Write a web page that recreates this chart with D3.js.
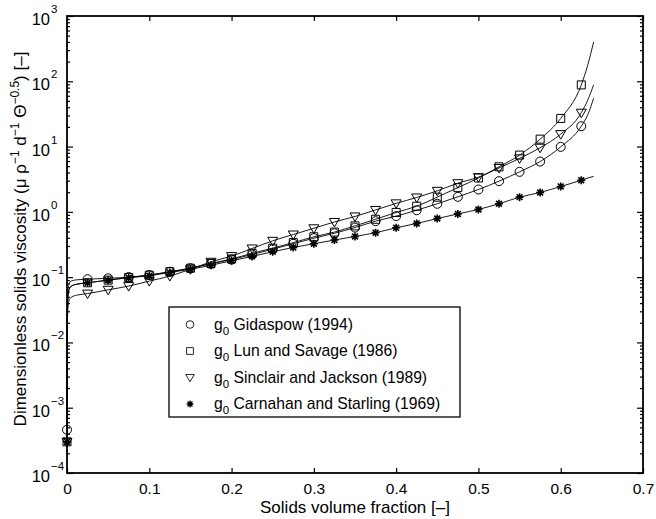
<!DOCTYPE html>
<html><head><meta charset="utf-8">
<script src="https://cdn.jsdelivr.net/npm/d3@7"></script>
<style>
body{margin:0;background:#fff;}
text{font-family:"Liberation Sans",Arial,Helvetica,sans-serif;fill:#000;}
</style></head>
<body><svg id="c" width="656" height="519"></svg>
<script>
// ---- data ----
const phi = [0,0.025,0.05,0.075,0.1,0.125,0.15,0.175,0.2,0.225,0.25,0.275,0.3,0.325,0.35,0.375,0.4,0.425,0.45,0.475,0.5,0.525,0.55,0.575,0.6,0.625];
const gidaspow =        [4.6e-4,0.093,0.096,0.100,0.108,0.121,0.137,0.160,0.186,0.222,0.268,0.325,0.395,0.47,0.575,0.72,0.86,1.06,1.33,1.70,2.2,2.95,4.1,5.9,9.9,20.5];
const lunSavage =       [3e-4,0.082,0.090,0.099,0.107,0.121,0.137,0.162,0.190,0.232,0.278,0.338,0.415,0.49,0.61,0.77,0.98,1.22,1.68,2.35,3.3,4.9,7.4,13,27,88];
const sinclairJackson = [3e-4,0.056,0.064,0.073,0.087,0.104,0.132,0.172,0.21,0.275,0.36,0.45,0.56,0.70,0.85,1.07,1.35,1.66,2.1,2.75,3.4,4.7,6.6,9.6,15.5,33];
const carnahanStarling =[3e-4,0.082,0.090,0.098,0.105,0.118,0.132,0.152,0.178,0.208,0.245,0.285,0.325,0.37,0.42,0.48,0.57,0.665,0.79,0.93,1.09,1.33,1.68,1.98,2.45,3.05];
// extra curve points (near the origin and beyond the last marker)
const phiStart = [0.0005,0.002,0.006,0.012];
const phiEnd = [0.633,0.64];
const gidaspowStart = [0.045,0.078,0.088,0.091],  gidaspowEnd = [31,55];
const lunSavageStart = [0.03,0.062,0.074,0.078],  lunSavageEnd = [180,400];
const sinclairStart = [0.022,0.042,0.05,0.053],   sinclairEnd = [52,88];
const carnahanStart = [0.03,0.062,0.074,0.078],   carnahanEnd = [3.3,3.5];
const seriesNames = ["Gidaspow (1994)","Lun and Savage (1986)","Sinclair and Jackson (1989)","Carnahan and Starling (1969)"];
const xTicks = [0,0.1,0.2,0.3,0.4,0.5,0.6,0.7];
const yExponents = [-4,-3,-2,-1,0,1,2,3];

// ---- layout ----
const L=67,R=643,T=16,B=473;
const svg=d3.select("#c");
const x=d3.scaleLinear().domain([0,0.7]).range([L,R]);
const y=d3.scaleLog().domain([1e-4,1e3]).range([B,T]);

const markerPaths={
  circle:"M4.5,0A4.5,4.5 0 1,1 -4.5,0A4.5,4.5 0 1,1 4.5,0Z",
  square:"M-4,-4H4V4H-4Z",
  tri:"M-5,-3.5H5L0,5Z",
  star:"M-4,0H4M0,-4V4M-2.9,-2.9L2.9,2.9M-2.9,2.9L2.9,-2.9"
};
const series=[
  {name:seriesNames[0],vals:gidaspow,start:gidaspowStart,end:gidaspowEnd,m:"circle"},
  {name:seriesNames[1],vals:lunSavage,start:lunSavageStart,end:lunSavageEnd,m:"square"},
  {name:seriesNames[2],vals:sinclairJackson,start:sinclairStart,end:sinclairEnd,m:"tri"},
  {name:seriesNames[3],vals:carnahanStarling,start:carnahanStart,end:carnahanEnd,m:"star"}
];

const line=d3.line().x(d=>x(d[0])).y(d=>y(d[1])).curve(d3.curveMonotoneX);
series.forEach(s=>{
  const pts=[[phi[0],s.vals[0]]]
    .concat(phiStart.map((p,i)=>[p,s.start[i]]))
    .concat(phi.slice(1).map((p,i)=>[p,s.vals[i+1]]))
    .concat(phiEnd.map((p,i)=>[p,s.end[i]]));
  svg.append("path").attr("d",line(pts)).attr("fill","none").attr("stroke","#000").attr("stroke-width",0.9);
});
series.forEach(s=>{
  svg.append("g").selectAll("path").data(phi.map((p,i)=>[p,s.vals[i]])).join("path")
    .attr("transform",d=>`translate(${x(d[0])},${y(d[1])})`)
    .attr("d",markerPaths[s.m]).attr("fill","none").attr("stroke","#000")
    .attr("stroke-width",s.m==="star"?1.6:1);
});

// ---- axes ----
const minor=[];
for(let e=-4;e<3;e++) for(let k=2;k<=9;k++) minor.push(k*Math.pow(10,e));
const decades=yExponents.map(e=>Math.pow(10,e));
function styleAxis(g){g.select(".domain").remove();g.selectAll("line").attr("stroke","#000").attr("stroke-width",1.2);}
svg.append("g").attr("transform",`translate(0,${B})`)
  .call(d3.axisBottom(x).tickValues(xTicks).tickSizeInner(-5).tickSizeOuter(0).tickPadding(10).tickFormat(d=>d===0?"0":d3.format(".1f")(d)))
  .call(styleAxis).call(g=>g.selectAll("text").attr("font-size",15.5).attr("font-family","Liberation Sans, Arial, sans-serif"));
svg.append("g").attr("transform",`translate(0,${T})`)
  .call(d3.axisTop(x).tickValues(xTicks).tickSizeInner(-5).tickSizeOuter(0).tickFormat(""))
  .call(styleAxis);
[[L,d3.axisLeft],[R,d3.axisRight]].forEach(([px,ax])=>{
  svg.append("g").attr("transform",`translate(${px},0)`)
    .call(ax(y).tickValues(decades).tickSizeInner(-6).tickSizeOuter(0).tickFormat(""))
    .call(styleAxis);
  svg.append("g").attr("transform",`translate(${px},0)`)
    .call(ax(y).tickValues(minor).tickSizeInner(-3).tickSizeOuter(0).tickFormat(""))
    .call(styleAxis);
});
svg.append("rect").attr("x",L).attr("y",T).attr("width",R-L).attr("height",B-T)
  .attr("fill","none").attr("stroke","#000").attr("stroke-width",1.8);

// y tick labels 10^n
const yl=svg.append("g");
yExponents.forEach(e=>{
  const yy=y(Math.pow(10,e));
  yl.append("text").attr("x",50).attr("y",yy+9).attr("text-anchor","end").attr("font-size",16.5).text("10");
  yl.append("text").attr("x",51).attr("y",yy-3).attr("font-size",11.5).text(e<0?"\u2212"+(-e):String(e));
});

// axis labels
svg.append("text").attr("x",(L+R)/2).attr("y",513).attr("text-anchor","middle").attr("font-size",17)
  .text("Solids volume fraction [\u2013]");
const ylab=svg.append("text").attr("transform",`translate(26,239) rotate(-90)`)
  .attr("text-anchor","middle").attr("font-size",17);
ylab.append("tspan").text("Dimensionless solids viscosity (\u03bc \u03c1");
ylab.append("tspan").attr("dy",-7).attr("font-size",12).text("\u22121");
ylab.append("tspan").attr("dy",7).text(" d");
ylab.append("tspan").attr("dy",-7).attr("font-size",12).text("\u22121");
ylab.append("tspan").attr("dy",7).text(" \u0398");
ylab.append("tspan").attr("dy",-7).attr("font-size",12).text("\u22120.5");
ylab.append("tspan").attr("dy",7).text(") [\u2013]");

// legend
const lg=svg.append("g");
lg.append("rect").attr("x",169).attr("y",307).attr("width",291).attr("height",110)
  .attr("fill","#fff").attr("stroke","#000").attr("stroke-width",1.3);
series.forEach((s,i)=>{
  const by=329.5+i*26.5;
  lg.append("path").attr("transform",`translate(190,${by-5}) scale(0.85)`).attr("d",markerPaths[s.m])
    .attr("fill","none").attr("stroke","#000").attr("stroke-width",s.m==="star"?1.6:1);
  const t=lg.append("text").attr("x",214).attr("y",by).attr("font-size",15.7);
  t.append("tspan").text("g");
  t.append("tspan").attr("dy",5).attr("font-size",11.5).text("0");
  t.append("tspan").attr("dy",-5).text(" "+s.name);
});
</script></body></html>
